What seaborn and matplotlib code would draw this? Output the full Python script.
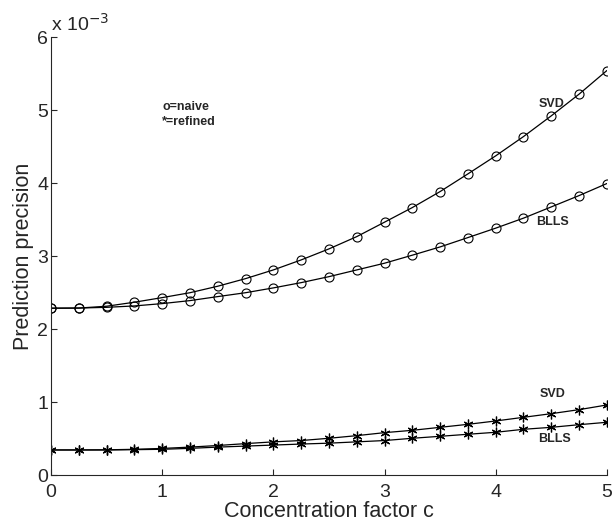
import numpy as np
import pandas as pd
import seaborn as sns
import matplotlib.pyplot as plt

# concentration factor c
c = [0, 0.25, 0.5, 0.75, 1.0, 1.25, 1.5, 1.75, 2.0, 2.25, 2.5,
     2.75, 3.0, 3.25, 3.5, 3.75, 4.0, 4.25, 4.5, 4.75, 5.0]

# prediction precision, in units of 1e-3
svd_naive = [2.288, 2.29, 2.315, 2.37, 2.433, 2.50, 2.589, 2.693, 2.812, 2.949, 3.10,
             3.268, 3.466, 3.666, 3.885, 4.127, 4.374, 4.638, 4.922, 5.219, 5.542]
blls_naive = [2.288, 2.29, 2.30, 2.319, 2.351, 2.392, 2.447, 2.50, 2.566, 2.638, 2.72,
              2.812, 2.904, 3.014, 3.127, 3.255, 3.384, 3.521, 3.675, 3.830, 3.995]
svd_refined = [0.347, 0.347, 0.349, 0.356, 0.368, 0.386, 0.408, 0.434, 0.458, 0.476, 0.507,
               0.543, 0.584, 0.616, 0.657, 0.698, 0.744, 0.794, 0.844, 0.899, 0.963]
blls_refined = [0.347, 0.347, 0.347, 0.351, 0.356, 0.369, 0.386, 0.400, 0.414, 0.428, 0.440,
                0.458, 0.476, 0.507, 0.534, 0.562, 0.589, 0.630, 0.657, 0.693, 0.726]

sns.set_style("ticks")
plt.rcParams['font.family'] = ['Liberation Sans', 'DejaVu Sans']
plt.rcParams['xtick.direction'] = 'in'
plt.rcParams['ytick.direction'] = 'in'

fig = plt.figure(figsize=(6.13, 5.30), dpi=100)
ax = fig.add_axes([0.0832, 0.1032, 0.9068, 0.8268])

naive_style = dict(color='k', lw=0.9, marker='o', markersize=6.5,
                   markerfacecolor='none', markeredgecolor='k', markeredgewidth=0.8)
refined_style = dict(color='k', lw=0.9, marker=(6, 2, 0), markersize=7,
                     markeredgecolor='k', markeredgewidth=0.9)

sns.lineplot(x=c, y=svd_naive, ax=ax, **naive_style)
sns.lineplot(x=c, y=blls_naive, ax=ax, **naive_style)
sns.lineplot(x=c, y=svd_refined, ax=ax, **refined_style)
sns.lineplot(x=c, y=blls_refined, ax=ax, **refined_style)

ax.set_xlim(0, 5)
ax.set_ylim(0, 6)
ax.set_xticks([0, 1, 2, 3, 4, 5])
ax.set_yticks([0, 1, 2, 3, 4, 5, 6])
ax.tick_params(labelsize=14, length=4, width=0.8)
ax.tick_params(axis='x', pad=6)
ax.tick_params(axis='y', pad=2)
sns.despine(ax=ax)
for s in ['left', 'bottom']:
    ax.spines[s].set_linewidth(0.8)

ax.set_xlabel("Concentration factor c", fontsize=15.5, labelpad=0)
ax.set_ylabel("Prediction precision", fontsize=15.5, labelpad=2)
ax.text(0.0, 6.03, r"x 10$^{-3}$", fontsize=14, ha='left', va='bottom')

lab = dict(fontsize=9, fontweight='bold', ha='center', va='center')
ax.text(4.50, 5.09, "SVD", **lab)
ax.text(4.51, 3.47, "BLLS", **lab)
ax.text(4.51, 1.12, "SVD", **lab)
ax.text(4.53, 0.50, "BLLS", **lab)
ax.text(1.0, 5.04, "o=naive", fontsize=9, fontweight='bold', ha='left', va='center')
ax.text(1.0, 4.84, "*=refined", fontsize=9, fontweight='bold', ha='left', va='center')

fig.savefig("out.png", dpi=100)
